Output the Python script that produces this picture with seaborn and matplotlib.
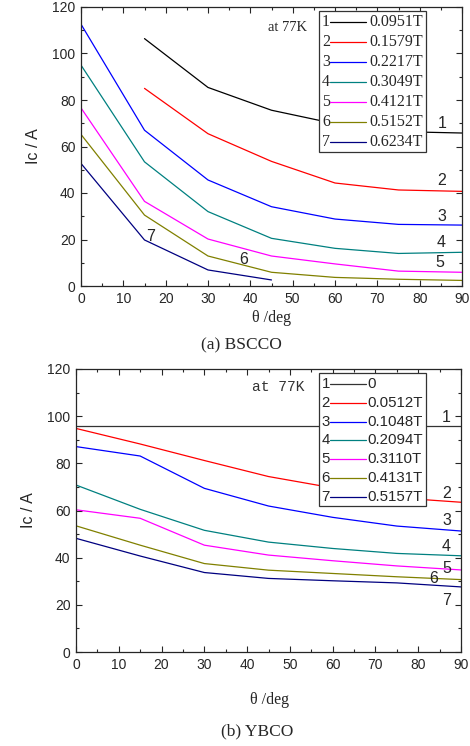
import matplotlib
matplotlib.use("Agg")
import matplotlib.pyplot as plt
from matplotlib.ticker import MultipleLocator
import seaborn as sns
import pandas as pd
import numpy as np

# angle points (deg)
theta = [0, 15, 30, 45, 60, 75, 90]

# (a) BSCCO, Ic in A, None where no measurement
bscco_fields = ['0.0951T', '0.1579T', '0.2217T', '0.3049T', '0.4121T', '0.5152T', '0.6234T']
bscco_1 = [None, 106.4, 85.4, 75.6, 69.8, 66.4, 65.8]
bscco_2 = [None, 85.0, 65.5, 53.6, 44.3, 41.3, 40.7]
bscco_3 = [112.6, 67.0, 45.6, 34.1, 28.8, 26.5, 26.2]
bscco_4 = [95.0, 53.4, 32.0, 20.5, 16.2, 14.0, 14.5]
bscco_5 = [76.6, 36.4, 20.2, 12.9, 9.5, 6.4, 5.9]
bscco_6 = [65.2, 30.5, 12.9, 5.9, 3.7, 2.9, 2.4]
bscco_7 = [52.7, 19.8, 6.9, 2.6, None, None, None]

# (b) YBCO
ybco_fields = ['0', '0.0512T', '0.1048T', '0.2094T', '0.3110T', '0.4131T', '0.5157T']
ybco_1 = [95.9, 95.9, 95.9, 95.9, 95.9, 95.9, 95.9]
ybco_2 = [94.8, 88.2, 81.2, 74.4, 69.6, 65.4, 63.5]
ybco_3 = [87.1, 83.1, 69.4, 61.9, 57.1, 53.4, 51.3]
ybco_4 = [70.8, 60.5, 51.6, 46.6, 43.9, 41.8, 40.8]
ybco_5 = [60.3, 56.7, 45.3, 41.1, 38.7, 36.5, 34.8]
ybco_6 = [53.5, 45.3, 37.5, 34.7, 33.3, 31.9, 30.7]
ybco_7 = [48.2, 40.7, 33.7, 31.2, 30.2, 29.3, 27.6]

curve_ids = ['1', '2', '3', '4', '5', '6', '7']
colors_a = ['#000000', '#ff0000', '#0000ff', '#008080', '#ff00ff', '#808000', '#000080']
colors_b = ['#333333', '#ff0000', '#0000ff', '#008080', '#ff00ff', '#808000', '#000080']


def to_frame(series):
    rows = []
    for cid, vals in zip(curve_ids, series):
        for t, v in zip(theta, vals):
            if v is not None:
                rows.append((t, v, cid))
    return pd.DataFrame(rows, columns=['theta', 'Ic', 'curve'])


df_a = to_frame([bscco_1, bscco_2, bscco_3, bscco_4, bscco_5, bscco_6, bscco_7])
df_b = to_frame([ybco_1, ybco_2, ybco_3, ybco_4, ybco_5, ybco_6, ybco_7])

sns.set_style("ticks")
plt.rcParams['font.family'] = ['Liberation Sans', 'DejaVu Sans']

fig = plt.figure(figsize=(4.7, 7.46), dpi=100)
ax_a = fig.add_axes([81 / 470, 1 - 286 / 746, 381 / 470, 279 / 746])
ax_b = fig.add_axes([76 / 470, 1 - 652 / 746, 385 / 470, 283 / 746])

serif = ['Liberation Serif', 'DejaVu Serif']
mono = ['Liberation Mono', 'DejaVu Sans Mono']


def style_axes(ax):
    ax.set_xlim(0, 90)
    ax.set_ylim(0, 120)
    ax.xaxis.set_major_locator(MultipleLocator(10))
    ax.xaxis.set_minor_locator(MultipleLocator(5))
    ax.yaxis.set_major_locator(MultipleLocator(20))
    ax.yaxis.set_minor_locator(MultipleLocator(10))
    ax.tick_params(which='both', direction='in', top=True, right=True, width=0.8)
    ax.tick_params(which='major', length=4, labelsize=10, pad=4)
    ax.tick_params(which='minor', length=2)
    for s in ax.spines.values():
        s.set_linewidth(0.9)
    ax.set_xlabel('')
    ax.set_ylabel('Ic / A', fontsize=11.5, labelpad=8)


sns.lineplot(data=df_a, x='theta', y='Ic', hue='curve', palette=colors_a,
             estimator=None, sort=False, legend=False, linewidth=0.9, ax=ax_a)
sns.lineplot(data=df_b, x='theta', y='Ic', hue='curve', palette=colors_b,
             estimator=None, sort=False, legend=False, linewidth=0.9, ax=ax_b)
style_axes(ax_a)
style_axes(ax_b)


def draw_legend(ax, fields, colors, font, size, x_num, x0, x1, x_txt, y_top, step, box):
    bx0, by0, bx1, by1 = box
    ax.add_patch(plt.Rectangle((bx0, by0), bx1 - bx0, by1 - by0, transform=ax.transAxes,
                               facecolor='white', edgecolor='#333333', linewidth=0.9, zorder=5))
    for i, (cid, f, c) in enumerate(zip(curve_ids, fields, colors)):
        y = y_top - i * step
        ax.text(x_num, y, cid, transform=ax.transAxes, ha='center', va='center',
                fontsize=size, family=font, zorder=6)
        ax.plot([x0, x1], [y, y], transform=ax.transAxes, color=c, lw=0.9, zorder=6)
        ax.text(x_txt, y, f, transform=ax.transAxes, ha='left', va='center',
                fontsize=size, family=font, zorder=6)


draw_legend(ax_a, bscco_fields, colors_a, serif, 11.5, 0.643, 0.654, 0.748, 0.756, 0.946, 0.0717,
            (0.625, 0.480, 0.906, 0.986))
draw_legend(ax_b, ybco_fields, colors_b, ['Liberation Sans', 'DejaVu Sans'], 10.8,
            0.649, 0.660, 0.753, 0.758, 0.947, 0.0664, (0.631, 0.516, 0.909, 0.986))

ax_a.text(0.541, 0.928, 'at 77K', transform=ax_a.transAxes, ha='center', va='center',
          fontsize=10.5, family=serif)
ax_b.text(0.525, 0.936, 'at 77K', transform=ax_b.transAxes, ha='center', va='center',
          fontsize=10.5, family=mono, color='#333333')

# curve numbers next to the lines
lab_a = [(85.3, 69.7), (85.3, 45.2), (85.3, 30.1), (85.0, 18.5), (84.8, 9.9), (38.5, 11.6), (16.5, 21.5)]
lab_b = [(86.6, 99.6), (86.6, 67.3), (86.6, 55.9), (86.6, 44.6), (86.6, 35.4), (83.6, 31.2), (86.6, 22.0)]
for cid, (x, y) in zip(curve_ids, lab_a):
    ax_a.text(x, y, cid, ha='center', va='center', fontsize=11.5)
for cid, (x, y) in zip(curve_ids, lab_b):
    ax_b.text(x, y, cid, ha='center', va='center', fontsize=11.5)

fig.text(271 / 470, 1 - 318 / 746, 'θ /deg', ha='center', va='center', fontsize=11.5, family=serif)
fig.text(241 / 470, 1 - 345 / 746, '(a) BSCCO', ha='center', va='center', fontsize=12.5, family=serif)
fig.text(270 / 470, 1 - 700 / 746, 'θ /deg', ha='center', va='center', fontsize=11.5, family=serif)
fig.text(257 / 470, 1 - 731 / 746, '(b) YBCO', ha='center', va='center', fontsize=12.5, family=serif)

fig.savefig('out.png', dpi=100)
